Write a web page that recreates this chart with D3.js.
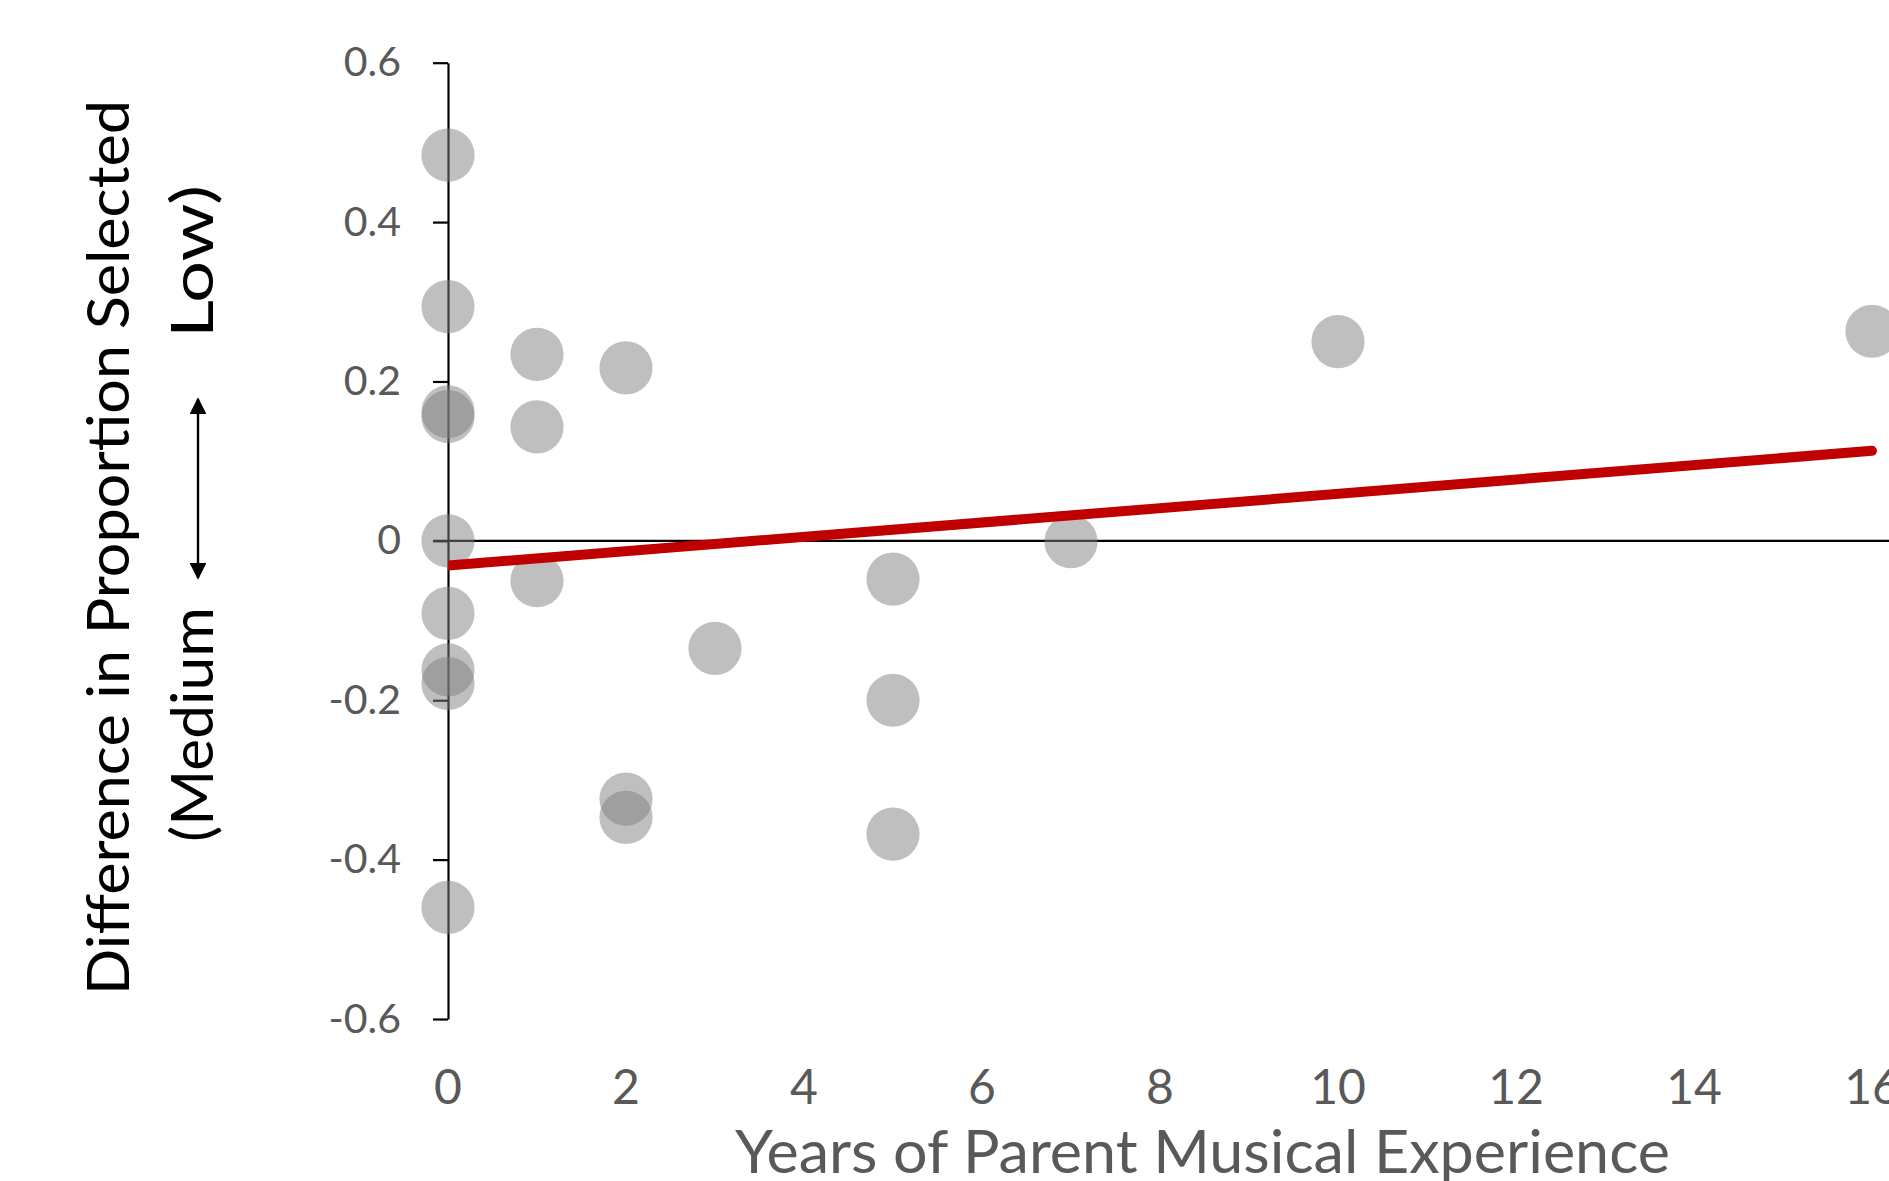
<!DOCTYPE html>
<html>
<head>
<meta charset="utf-8">
<script src="https://cdn.jsdelivr.net/npm/d3@7"></script>
<style>
  html, body { margin: 0; padding: 0; background: #ffffff; }
  svg { display: block; }
  text { font-family: Lato, "Open Sans", sans-serif; }
</style>
</head>
<body>
<svg id="chart" width="1889" height="1181"></svg>
<script>
// Years of parent musical experience for each child
const years = [0, 0, 0, 0, 0, 0, 0, 0, 0, 1, 1, 1, 2, 2, 2, 3, 5, 5, 5, 7, 10, 16];
// Difference in proportion selected (low minus medium)
const difference = [0.484, 0.294, 0.162, 0.156, 0, -0.091, -0.162, -0.179, -0.460,
                    0.234, 0.143, -0.050, 0.217, -0.324, -0.347, -0.135,
                    -0.048, -0.200, -0.368, -0.001, 0.250, 0.263];
// Linear trend line end points
const trendYears = [0, 16];
const trendDifference = [-0.031, 0.113];
// Axis ticks
const xTicks = [0, 2, 4, 6, 8, 10, 12, 14, 16];
const xTickLabels = ["0", "2", "4", "6", "8", "10", "12", "14", "16"];
const yTicks = [-0.6, -0.4, -0.2, 0, 0.2, 0.4, 0.6];
const yTickLabels = ["-0.6", "-0.4", "-0.2", "0", "0.2", "0.4", "0.6"];

const svg = d3.select("#chart");
const W = 1889, H = 1181;

const x = d3.scaleLinear().domain([0, 16]).range([448, 1872]);
const y = d3.scaleLinear().domain([-0.6, 0.6]).range([1019, 62.7]);

const tickGray = "#595959";

// Vertical axis with outside ticks
const yAxis = d3.axisLeft(y)
  .tickValues(yTicks)
  .tickFormat((d, i) => yTickLabels[i])
  .tickSize(15)
  .tickSizeOuter(0)
  .tickPadding(32);

const gy = svg.append("g")
  .attr("transform", `translate(${x(0)},0)`)
  .call(yAxis);
gy.select(".domain").attr("stroke", "#000").attr("stroke-width", 2.2);
gy.selectAll(".tick line").attr("stroke", "#000").attr("stroke-width", 2.2);
gy.selectAll(".tick text")
  .attr("fill", tickGray)
  .style("font-size", "41px")
  .style("font-family", "Lato, 'Open Sans', sans-serif");

// Horizontal line at zero across the plot
svg.append("line")
  .attr("x1", x(0) - 15).attr("x2", W)
  .attr("y1", y(0)).attr("y2", y(0))
  .attr("stroke", "#000").attr("stroke-width", 2.2);

// Category labels along the bottom
svg.append("g").selectAll("text")
  .data(xTicks)
  .join("text")
  .attr("x", d => x(d))
  .attr("y", 1104)
  .attr("text-anchor", "middle")
  .attr("fill", tickGray)
  .style("font-size", "48px")
  .text((d, i) => xTickLabels[i]);

// Data points
svg.append("g").selectAll("circle")
  .data(years.map((v, i) => ({ x: v, y: difference[i] })))
  .join("circle")
  .attr("cx", d => x(d.x))
  .attr("cy", d => y(d.y))
  .attr("r", 26.6)
  .attr("fill", "#808080")
  .attr("fill-opacity", 0.5);

// Trend line, clipped at the vertical axis
svg.append("clipPath").attr("id", "plotClip")
  .append("rect")
  .attr("x", x(0)).attr("y", 0)
  .attr("width", W - x(0)).attr("height", H);

const trendLine = d3.line()
  .x(d => x(d[0]))
  .y(d => y(d[1]));

svg.append("path")
  .datum(trendYears.map((v, i) => [v, trendDifference[i]]))
  .attr("d", trendLine)
  .attr("clip-path", "url(#plotClip)")
  .attr("fill", "none")
  .attr("stroke", "#C00000")
  .attr("stroke-width", 10)
  .attr("stroke-linecap", "round");

// Horizontal axis title
svg.append("text")
  .attr("x", 735)
  .attr("y", 1172.7)
  .attr("fill", tickGray)
  .attr("textLength", 935)
  .attr("lengthAdjust", "spacingAndGlyphs")
  .style("font-size", "60px")
  .text("Years of Parent Musical Experience");

// Vertical axis title, first line
svg.append("text")
  .attr("transform", "translate(129,547.5) rotate(-90)")
  .attr("text-anchor", "middle")
  .attr("fill", "#000")
  .attr("textLength", 895)
  .attr("lengthAdjust", "spacingAndGlyphs")
  .style("font-size", "58px")
  .text("Difference in Proportion Selected");

// Second line: (Medium <-> Low)
svg.append("text")
  .attr("transform", "translate(213,842) rotate(-90)")
  .attr("fill", "#000")
  .attr("textLength", 235)
  .attr("lengthAdjust", "spacingAndGlyphs")
  .style("font-size", "59px")
  .text("(Medium");

svg.append("text")
  .attr("transform", "translate(213,338) rotate(-90)")
  .attr("fill", "#000")
  .attr("textLength", 153)
  .attr("lengthAdjust", "spacingAndGlyphs")
  .style("font-size", "59px")
  .text("Low)");

const defs = svg.append("defs");
defs.append("marker")
  .attr("id", "arrowHead")
  .attr("viewBox", "0 0 10 10")
  .attr("refX", 9).attr("refY", 5)
  .attr("markerWidth", 7).attr("markerHeight", 7)
  .attr("markerUnits", "strokeWidth")
  .attr("orient", "auto-start-reverse")
  .append("path")
  .attr("d", "M0,0 L10,5 L0,10 Z")
  .attr("fill", "#000");

svg.append("line")
  .attr("x1", 198).attr("x2", 198)
  .attr("y1", 578).attr("y2", 399)
  .attr("stroke", "#000")
  .attr("stroke-width", 2.4)
  .attr("marker-start", "url(#arrowHead)")
  .attr("marker-end", "url(#arrowHead)");
</script>
</body>
</html>
